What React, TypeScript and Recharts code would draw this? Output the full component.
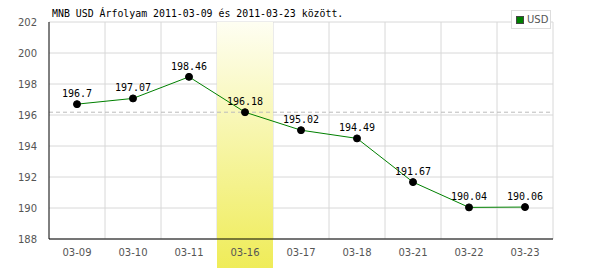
import { LineChart, Line, XAxis, YAxis, CartesianGrid, ReferenceLine, ReferenceArea, LabelList } from "recharts"

const dates = ["03-09", "03-10", "03-11", "03-16", "03-17", "03-18", "03-21", "03-22", "03-23"]
const usd = [196.7, 197.07, 198.46, 196.18, 195.02, 194.49, 191.67, 190.04, 190.06]
const yTicks = [188, 190, 192, 194, 196, 198, 200, 202]
const highlightDate = "03-16"
const refValue = 196.18
const title = "MNB USD Árfolyam 2011-03-09 és 2011-03-23 között."
const seriesName = "USD"

const data = dates.map((d, i) => ({ date: d, usd: usd[i] }))

const mono = "'DejaVu Sans Mono', monospace"
const sans = "'DejaVu Sans', sans-serif"

function LegendBox() {
  return (
    <div
      style={{
        position: "absolute",
        left: 511,
        top: 10,
        border: "1px solid #ddd",
        background: "#fff",
        width: 40,
        height: 19,
        boxSizing: "border-box",
        display: "flex",
        alignItems: "center",
        fontFamily: sans,
        fontSize: 10,
        color: "#555",
        zIndex: 2,
      }}
    >
      <span
        style={{ width: 6, height: 6, background: "#008000", border: "1px solid #444", margin: "0 3px 0 4px" }}
      />
      {seriesName}
    </div>
  )
}

export default function App() {
  return (
    <div style={{ position: "absolute", left: 0, top: 0, width: 600, height: 270, background: "#fff" }}>
      <div
        style={{
          position: "absolute",
          left: 52,
          top: 8,
          fontFamily: mono,
          fontSize: 9.9,
          color: "#000",
          whiteSpace: "nowrap",
          zIndex: 2,
        }}
      >
        {title}
      </div>
      <LegendBox />
      <LineChart width={600} height={270} data={data} margin={{ top: 22, right: 47, bottom: 0, left: 0 }}>
        <defs>
          <linearGradient id="hl" x1="0" y1="0" x2="0" y2="1">
            <stop offset="0%" stopColor="#fefef2" />
            <stop offset="100%" stopColor="#efec58" />
          </linearGradient>
        </defs>
        <CartesianGrid
          stroke="#d8d8d8"
          verticalCoordinatesGenerator={({ offset }: any) =>
            dates.map((_, i) => offset.left + ((i + 1) * offset.width) / dates.length)
          }
        />
        <ReferenceArea
          x1={highlightDate}
          x2={highlightDate}
          ifOverflow="visible"
          shape={(p: any) => <rect x={p.x} y={p.y} width={p.width} height={268 - p.y} fill="url(#hl)" />}
        />
        <ReferenceLine y={refValue} stroke="#bbb" strokeDasharray="4 3" />
        <XAxis
          dataKey="date"
          scale="band"
          height={31}
          axisLine={{ stroke: "#000" }}
          tickLine={false}
          tickMargin={4}
          tick={{ fill: "#555", fontFamily: sans, fontSize: 10 }}
        />
        <YAxis
          domain={[188, 202]}
          ticks={yTicks}
          width={49}
          axisLine={{ stroke: "#000" }}
          tickLine={false}
          tickMargin={6}
          tick={{ fill: "#555", fontFamily: sans, fontSize: 10 }}
        />
        <Line
          type="linear"
          dataKey="usd"
          stroke="#008000"
          strokeWidth={1}
          dot={{ r: 3.5, fill: "#000", stroke: "#000", strokeWidth: 1 }}
          isAnimationActive={false}
        >
          <LabelList dataKey="usd" position="top" offset={7} style={{ fontFamily: mono, fontSize: 10, fill: "#000" }} />
        </Line>
      </LineChart>
    </div>
  )
}
